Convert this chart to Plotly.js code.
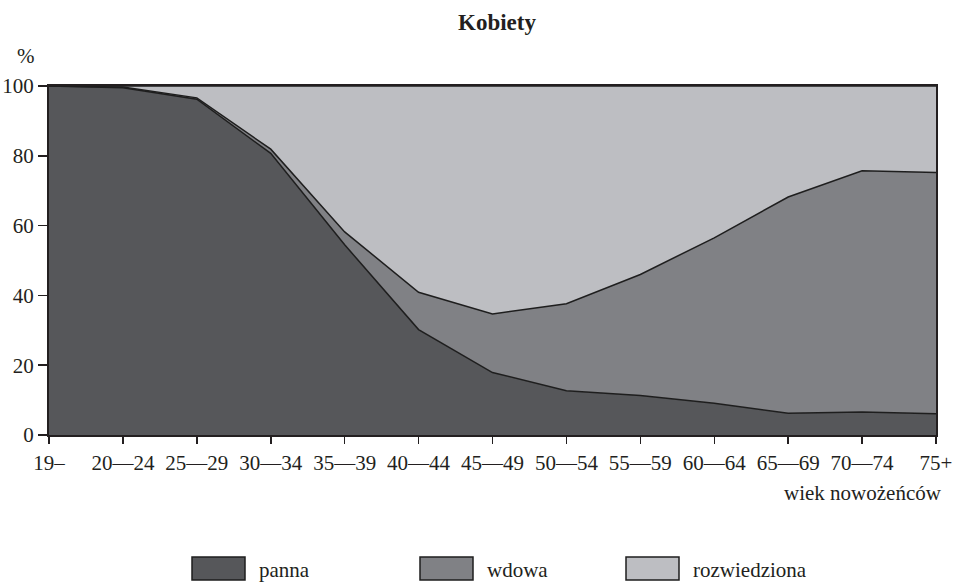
<!DOCTYPE html>
<html>
<head>
<meta charset="utf-8">
<script src="https://cdn.plot.ly/plotly-3.0.1.min.js"></script>
<style>html,body{margin:0;padding:0;background:#fff;}</style>
</head>
<body>
<div id="chart" style="width:955px;height:582px;"></div>
<script>
const categories = ["19–","20—24","25—29","30—34","35—39","40—44","45—49","50—54","55—59","60—64","65—69","70—74","75+"];
const panna = [100, 99.5, 96.2, 80.7, 54.5, 30.2, 17.9, 12.7, 11.3, 9.1, 6.2, 6.6, 6.1];
const wdowa = [0, 0.2, 0.4, 1.2, 3.7, 10.7, 16.8, 24.9, 34.7, 47.4, 62.0, 69.1, 69.1];
const rozwiedziona = [0, 0.3, 3.4, 18.1, 41.8, 59.1, 65.3, 62.4, 54.0, 43.5, 31.8, 24.3, 24.8];
const seriesNames = ["panna","wdowa","rozwiedziona"];
const seriesColors = ["#56575a","#808185","#bdbec2"];
const yTicks = [0,20,40,60,80,100];

const FONT = "'Liberation Serif', 'Times New Roman', serif";
const values = [panna, wdowa, rozwiedziona];

const traces = values.map((v, i) => ({
  type: "scatter",
  mode: "lines",
  x: categories,
  y: v,
  name: seriesNames[i],
  stackgroup: "one",
  fillcolor: seriesColors[i],
  line: {color: "#1e1e1e", width: 1.5},
  hoverinfo: "skip",
  showlegend: false
}));

// manual legend (boxes + labels) in paper coords
const boxLeft = [192, 420, 626];
const boxW = 53, plotL = 49, plotW = 887, plotB = 435, plotH = 349;
const px2x = p => (p - plotL) / plotW;
const px2y = p => (plotB - p) / plotH;
const shapes = [];
const annotations = [];
seriesNames.forEach((n, i) => {
  shapes.push({
    type: "rect", xref: "paper", yref: "paper",
    x0: px2x(boxLeft[i]), x1: px2x(boxLeft[i] + boxW),
    y0: px2y(580), y1: px2y(557),
    fillcolor: seriesColors[i],
    line: {color: "#1e1e1e", width: 1.5}
  });
  annotations.push({
    xref: "paper", yref: "paper",
    x: px2x(boxLeft[i] + boxW + 12), y: px2y(570),
    xanchor: "left", yanchor: "middle",
    text: n, showarrow: false,
    font: {family: FONT, size: 21, color: "#231f20"}
  });
});
annotations.push({
  xref: "paper", yref: "paper",
  x: px2x(26), y: px2y(56), xanchor: "center", yanchor: "middle",
  text: "%", showarrow: false,
  font: {family: FONT, size: 21, color: "#231f20"}
});
annotations.push({
  xref: "paper", yref: "paper",
  x: px2x(944), y: px2y(493), xanchor: "right", yanchor: "middle",
  text: "wiek nowożeńców", showarrow: false,
  font: {family: FONT, size: 21, color: "#231f20"}
});

const layout = {
  width: 955, height: 582,
  margin: {l: 49, r: 19, t: 86, b: 147, pad: 0},
  paper_bgcolor: "#ffffff",
  plot_bgcolor: "#ffffff",
  font: {family: FONT, size: 21, color: "#231f20"},
  title: {
    text: "<b>Kobiety</b>",
    xref: "container", yref: "container",
    x: 497/955, y: 1 - 22/582, xanchor: "center", yanchor: "middle",
    font: {family: FONT, size: 23, color: "#231f20"}
  },
  xaxis: {
    type: "category",
    range: [0, categories.length - 1],
    showgrid: false, zeroline: false,
    showline: true, linecolor: "#231f20", linewidth: 2, mirror: true,
    ticks: "outside", ticklen: 7, tickwidth: 1.5, tickcolor: "#231f20",
    ticklabelstandoff: 1,
    tickfont: {family: FONT, size: 21, color: "#231f20"},
    fixedrange: true
  },
  yaxis: {
    range: [0, 100],
    tickvals: yTicks,
    ticktext: yTicks.map(String),
    showgrid: false, zeroline: false,
    showline: true, linecolor: "#231f20", linewidth: 2, mirror: true,
    ticks: "outside", ticklen: 9, tickwidth: 1.5, tickcolor: "#231f20",
    tickfont: {family: FONT, size: 21, color: "#231f20"},
    fixedrange: true
  },
  shapes: shapes,
  annotations: annotations,
  showlegend: false
};

Plotly.newPlot("chart", traces, layout, {displayModeBar: false, staticPlot: true});
</script>
</body>
</html>
